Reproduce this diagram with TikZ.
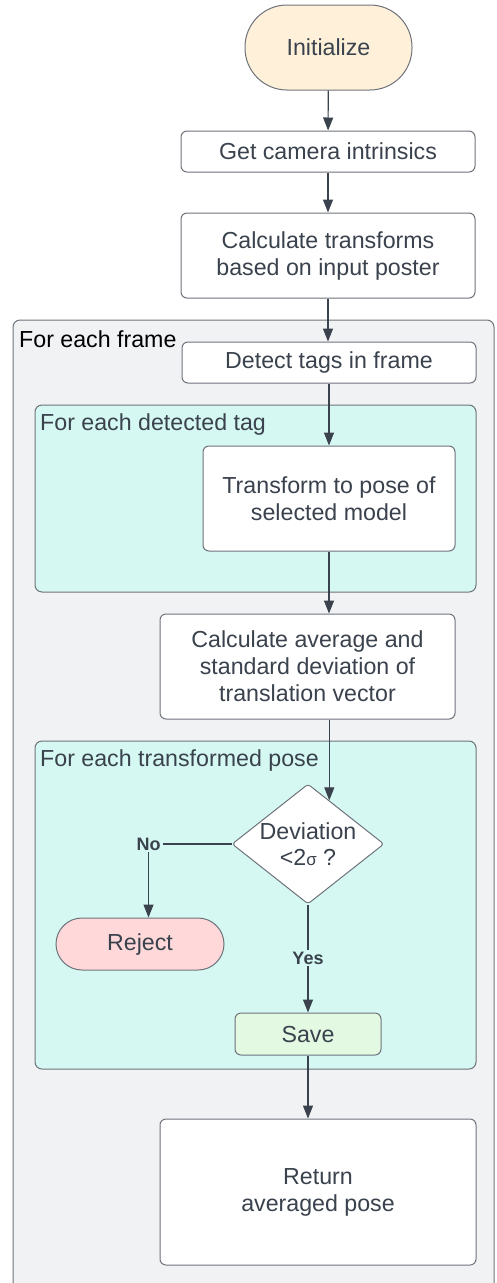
\documentclass[tikz,border=0pt]{standalone}
\usepackage{fontspec}
\setmainfont{Liberation Sans}
\usetikzlibrary{arrows.meta,shapes.geometric}

\definecolor{ink}{HTML}{3A424D}
\definecolor{edgegray}{HTML}{6E737B}
\definecolor{framebg}{HTML}{F1F2F4}
\definecolor{loopbg}{HTML}{D5F8F2}
\definecolor{startbg}{HTML}{FFF1D9}
\definecolor{rejectbg}{HTML}{FFD9D9}
\definecolor{savebg}{HTML}{E3F9E2}

\begin{document}
\begin{tikzpicture}[x=1pt,y=-1pt,
		every node/.style={font=\fontsize{23.2}{27}\selectfont, text=ink, inner sep=0pt},
		box/.style={draw=edgegray, line width=1pt, fill=white, rounded corners=6pt, align=center},
		pill/.style={box, rounded corners=26pt},
		frame/.style={draw=edgegray, line width=1pt, fill=framebg, rounded corners=7pt},
		loopframe/.style={frame, fill=loopbg},
		framelabel/.style={anchor=north west},
		answer/.style={font=\fontsize{18}{21}\selectfont\bfseries, inner sep=2pt},
		flow/.style={draw=ink, line width=1.1pt, -{Triangle[length=13pt,width=10pt]}},
		link/.style={draw=ink, line width=1.1pt}]
			\clip (0,0) rectangle (496,1283);

			% containers
			\node[frame, minimum width=481, minimum height=990] (outer) at (253.5,815) {};
			\node[framelabel, text=black] (outerlbl) at (19,330) {For each frame};

			\node[loopframe, minimum width=441, minimum height=187] (tagloop) at (255.5,498.5) {};
			\node[framelabel] (taglbl) at (40,413) {For each detected tag};

			\node[loopframe, minimum width=441, minimum height=328] (poseloop) at (255.5,905) {};
			\node[framelabel] (poselbl) at (40,749) {For each transformed pose};

			% steps
			\node[pill, fill=startbg, rounded corners=42pt, minimum width=167, minimum height=85] (init) at (328.5,47.5) {Initialize};
			\node[box, minimum width=294, minimum height=41] (intr) at (328,151.5) {Get camera intrinsics};
			\node[box, minimum width=294, minimum height=85] (xform) at (328,255.5) {Calculate transforms\\based on input poster};
			\node[box, minimum width=294, minimum height=41] (detect) at (329,362.5) {Detect tags in frame};
			\node[box, minimum width=252, minimum height=105] (pose) at (329,498.5) {Transform to pose of\\selected model};
			\node[box, minimum width=295, minimum height=105] (avg) at (307.5,666.5) {Calculate average and\\standard deviation of\\translation vector};

			\node[diamond, draw=edgegray, line width=1pt, fill=white, rounded corners=3pt,
				minimum width=152, minimum height=120,
				label={[align=center, text=ink]center:Deviation\\[-1pt]<2{\fontsize{17}{20}\selectfont σ} ?}] (dev) at (308,844) {};

			\node[answer] (no) at (148.5,844) {No};
			\node[pill, fill=rejectbg, minimum width=168, minimum height=52] (reject) at (140,944) {Reject};
			\node[answer] (yes) at (308,958) {Yes};
			\node[box, fill=savebg, minimum width=146, minimum height=42] (save) at (308,1034) {Save};
			\node[box, minimum width=316, minimum height=146] (ret) at (318,1192) {Return\\averaged pose};

			% connectors
			\draw[flow] (init) -- (intr);
			\draw[flow] (intr) -- (xform);
			\draw[flow] (xform.south) -- (xform.south |- detect.north);
			\draw[flow] (detect) -- (pose);
			\draw[flow] (pose.south) -- (pose.south |- avg.north);
			\draw[flow] (avg.south -| dev.64) -- (dev.64);

			\draw[link] (dev.west) -- (no.east);
			\draw[flow] (no.south) -- (no.south |- reject.north);

			\draw[link] (dev.south) -- (yes.north);
			\draw[flow] (yes.south) -- (save.north);
			\draw[flow] (save.south) -- (save.south |- ret.north);
		\end{tikzpicture}
\end{document}
